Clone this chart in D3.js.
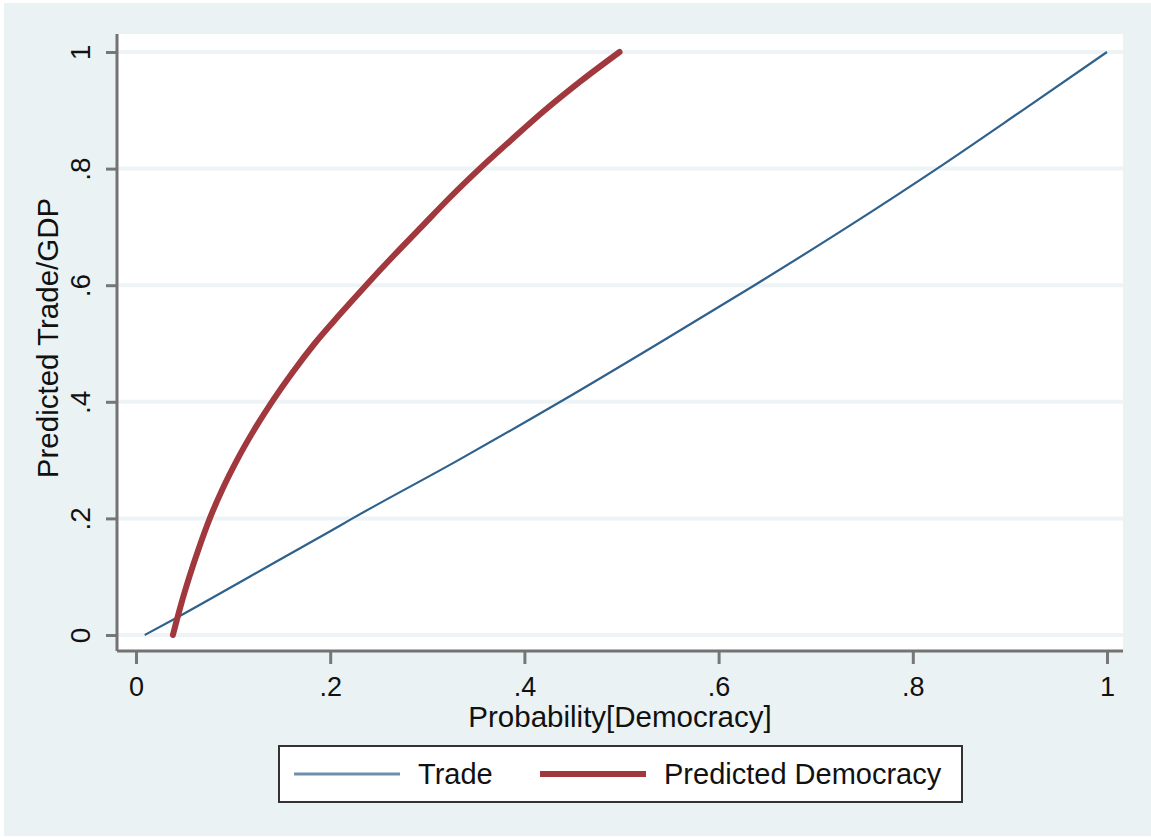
<!DOCTYPE html>
<html>
<head>
<meta charset="utf-8">
<script src="https://cdn.jsdelivr.net/npm/d3@7"></script>
<style>
  html, body { margin: 0; padding: 0; background: #fff; }
  text { font-family: "Liberation Sans", Arial, Helvetica, sans-serif; fill: #111; }
</style>
</head>
<body>
<div id="chart"></div>
<script>
// Trade line (x = Probability[Democracy], y = Predicted Trade/GDP)
const tradeX = [0.009, 0.04, 0.117, 0.2, 0.223, 0.332, 0.437, 0.538, 0.637, 0.733, 0.825, 0.913, 1.0];
const tradeY = [0, 0.028, 0.1, 0.178, 0.2, 0.3, 0.4, 0.5, 0.6, 0.7, 0.8, 0.9, 1.0];

// Predicted Democracy curve
const demX = [0.038, 0.046, 0.055, 0.065, 0.076, 0.089, 0.104, 0.121, 0.14, 0.161, 0.184, 0.21, 0.237, 0.265, 0.294, 0.323, 0.354, 0.387, 0.421, 0.458, 0.498];
const demY = [0, 0.05, 0.1, 0.15, 0.2, 0.25, 0.3, 0.35, 0.4, 0.45, 0.5, 0.55, 0.6, 0.65, 0.7, 0.75, 0.8, 0.85, 0.9, 0.95, 1.0];

const xTicks = [0, 0.2, 0.4, 0.6, 0.8, 1];
const xTickLabels = ['0', '.2', '.4', '.6', '.8', '1'];
const yTicks = [0, 0.2, 0.4, 0.6, 0.8, 1];
const yTickLabels = ['0', '.2', '.4', '.6', '.8', '1'];
const seriesNames = ['Trade', 'Predicted Democracy'];

const W = 1151, H = 837;
const plot = {left: 117, right: 1123, top: 34, bottom: 651};

const x = d3.scaleLinear().domain([0, 1]).range([136, 1107]);
const y = d3.scaleLinear().domain([0, 1]).range([635, 52]);

const svg = d3.select('#chart').append('svg')
  .attr('width', W)
  .attr('height', H);

// graph region
svg.append('rect')
  .attr('x', 4).attr('y', 3)
  .attr('width', W - 4).attr('height', H - 4)
  .attr('fill', '#eaf2f4');

// plot region
svg.append('rect')
  .attr('x', plot.left).attr('y', plot.top)
  .attr('width', plot.right - plot.left).attr('height', plot.bottom - plot.top)
  .attr('fill', '#ffffff');

// grid lines
svg.append('g')
  .selectAll('line')
  .data(yTicks)
  .enter().append('line')
  .attr('x1', plot.left).attr('x2', plot.right)
  .attr('y1', d => y(d)).attr('y2', d => y(d))
  .attr('stroke', '#eef4f6')
  .attr('stroke-width', 4);

// y axis
const yAxis = d3.axisLeft(y)
  .tickValues(yTicks)
  .tickFormat((d, i) => yTickLabels[i])
  .tickSize(11)
  .tickPadding(0);

const gy = svg.append('g')
  .attr('transform', 'translate(' + plot.left + ',0)')
  .call(yAxis);
gy.select('.domain').remove();
gy.selectAll('.tick line').attr('stroke', '#777').attr('stroke-width', 3);
gy.selectAll('.tick text')
  .attr('x', 0)
  .attr('transform', 'translate(-37,0) rotate(-90)')
  .attr('dy', '0.35em')
  .style('text-anchor', 'middle')
  .style('font-size', '28px')
  .style('fill', '#111');
gy.append('line')
  .attr('x1', 0).attr('x2', 0)
  .attr('y1', plot.top).attr('y2', plot.bottom)
  .attr('stroke', '#737373').attr('stroke-width', 3);

// x axis
const xAxis = d3.axisBottom(x)
  .tickValues(xTicks)
  .tickFormat((d, i) => xTickLabels[i])
  .tickSize(13)
  .tickPadding(0);

const gx = svg.append('g')
  .attr('transform', 'translate(0,' + plot.bottom + ')')
  .call(xAxis);
gx.select('.domain').remove();
gx.selectAll('.tick line').attr('stroke', '#777').attr('stroke-width', 3);
gx.selectAll('.tick text')
  .attr('y', 45).attr('dy', null)
  .style('font-size', '27px')
  .style('fill', '#111');
gx.append('line')
  .attr('x1', plot.left).attr('x2', plot.right)
  .attr('y1', 0).attr('y2', 0)
  .attr('stroke', '#737373').attr('stroke-width', 3);

// axis titles
svg.append('text')
  .attr('x', 620).attr('y', 727)
  .style('text-anchor', 'middle')
  .style('font-size', '29.5px')
  .text('Probability[Democracy]');

svg.append('text')
  .attr('transform', 'translate(48,338) rotate(-90)')
  .attr('dy', '0.35em')
  .style('text-anchor', 'middle')
  .style('font-size', '29.5px')
  .text('Predicted Trade/GDP');

// series
const line = d3.line()
  .x(d => x(d[0]))
  .y(d => y(d[1]))
  .curve(d3.curveMonotoneX);

svg.append('path')
  .datum(d3.zip(tradeX, tradeY))
  .attr('fill', 'none')
  .attr('stroke', '#2f618d')
  .attr('stroke-width', 2.2)
  .attr('d', line);

svg.append('path')
  .datum(d3.zip(demX, demY))
  .attr('fill', 'none')
  .attr('stroke', '#a1383e')
  .attr('stroke-width', 6)
  .attr('stroke-linecap', 'round')
  .attr('d', line);

// legend
const legend = svg.append('g');
legend.append('rect')
  .attr('x', 279).attr('y', 746)
  .attr('width', 683).attr('height', 56)
  .attr('fill', '#fff')
  .attr('stroke', '#333')
  .attr('stroke-width', 2);

const legendItems = [
  {name: seriesNames[0], x1: 294, x2: 400, tx: 418, color: '#6f8fae', width: 3},
  {name: seriesNames[1], x1: 540, x2: 646, tx: 664, color: '#a1383e', width: 6}
];

legendItems.forEach(it => {
  legend.append('line')
    .attr('x1', it.x1).attr('x2', it.x2)
    .attr('y1', 774).attr('y2', 774)
    .attr('stroke', it.color)
    .attr('stroke-width', it.width);
  legend.append('text')
    .attr('x', it.tx).attr('y', 774)
    .attr('dy', '0.35em')
    .style('font-size', '29px')
    .text(it.name);
});
</script>
</body>
</html>
